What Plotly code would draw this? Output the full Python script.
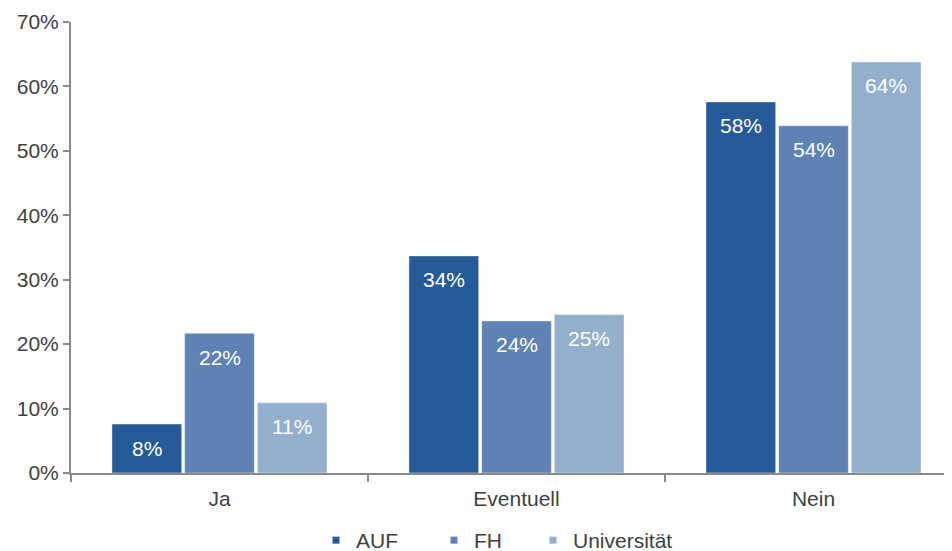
import plotly.graph_objects as go

categories = ["Ja", "Eventuell", "Nein"]
series_names = ["AUF", "FH", "Universität"]
auf = [0.076, 0.337, 0.576]
fh = [0.217, 0.236, 0.539]
uni = [0.109, 0.246, 0.638]
colors = ["#275A98", "#5E82B5", "#94AFCD"]
y_ticks = [0, 0.1, 0.2, 0.3, 0.4, 0.5, 0.6, 0.7]

FONT = "Liberation Sans, Arial, sans-serif"
TXT = "#404040"
BARGAP = 0.266
n_series = len(series_names)
slot = (1 - BARGAP) / n_series

# page layout (figure is shown with an 8px body offset)
W, H = 944, 562
ML, MT, MB = 63, 14, 97
plot_w = W - ML
plot_h = H - MT - MB
cat_px = 297

legend_names = ["legend", "legend2", "legend3"]
legend_left_px = [316, 434, 533]  # page x of each legend entry's left edge

fig = go.Figure()
annotations = []
for k, (name, vals, col) in enumerate(zip(series_names, [auf, fh, uni], colors)):
    fig.add_trace(go.Bar(
        x=categories, y=vals, name=name,
        marker=dict(color=col, line=dict(color="rgba(255,255,255,0.45)", width=1)),
        showlegend=False,
    ))
    fig.add_trace(go.Scatter(
        x=[None], y=[None], mode="markers", name=name,
        marker=dict(symbol="square", size=7, color=col),
        showlegend=True, legend=legend_names[k],
    ))
    for i, v in enumerate(vals):
        annotations.append(dict(
            x=i + (k - (n_series - 1) / 2) * slot, y=v, xref="x", yref="y",
            text=f"{round(v * 100):.0f}%", showarrow=False, yshift=-24,
            xanchor="center", yanchor="middle",
            font=dict(color="white", size=21, family=FONT),
        ))

legend_layout = {}
for ln, px in zip(legend_names, legend_left_px):
    legend_layout[ln] = dict(
        orientation="h", x=(px - 8 - ML) / plot_w, xanchor="left", y=-47 / plot_h, yanchor="top",
        font=dict(size=21, color=TXT, family=FONT), itemwidth=30, bgcolor="rgba(0,0,0,0)",
    )

fig.update_layout(
    width=W, height=H,
    margin=dict(l=ML, r=0, t=MT, b=MB),
    plot_bgcolor="white", paper_bgcolor="white",
    barmode="group", bargap=BARGAP, bargroupgap=0.04,
    font=dict(family=FONT, size=21, color=TXT),
    annotations=annotations,
    **legend_layout,
)
fig.update_xaxes(
    range=[-0.5, -0.5 + plot_w / cat_px], showline=True, linecolor="#898989", linewidth=2,
    ticks="outside", tickson="boundaries", ticklen=7, tickcolor="#898989", tickwidth=2,
    showgrid=False, tickfont=dict(size=21, color=TXT), zeroline=False,
    automargin=False, ticklabelstandoff=6,
)
fig.update_yaxes(
    range=[0, 0.7], tickvals=y_ticks, tickformat=".0%", showline=True, linecolor="#898989",
    linewidth=2, ticks="outside", ticklen=6, tickcolor="#898989", tickwidth=2,
    showgrid=False, zeroline=False, tickfont=dict(size=21, color=TXT),
    automargin=False,
)

fig.write_html("out.html")
